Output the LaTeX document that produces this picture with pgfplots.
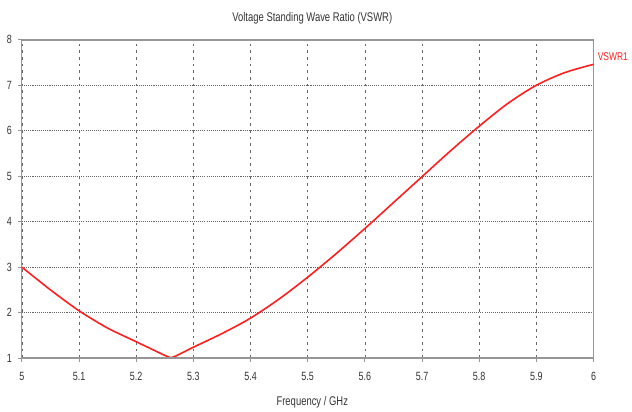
\documentclass[border=0pt]{standalone}
\usepackage{fontspec}
\setmainfont{Liberation Sans}[FakeStretch=0.75]
\usepackage{pgfplots}
\pgfplotsset{compat=1.18}
\definecolor{vred}{RGB}{255,30,30}
\definecolor{axgray}{RGB}{150,150,150}
\begin{document}
\begin{tikzpicture}
\path[use as bounding box] (-16.5pt,-40.5pt) rectangle (460pt,270pt);
\begin{axis}[
  scale only axis, width=431pt, height=240pt,
  xmin=5, xmax=6, ymin=1, ymax=8,
  xtick={5,5.1,...,6.01}, ytick={1,...,8},
  xticklabels={5,5.1,5.2,5.3,5.4,5.5,5.6,5.7,5.8,5.9,6},
  /pgf/number format/assume math mode=true,
  tick label style={font=\fontsize{9}{10}\selectfont, text=black!80},
  tick align=outside, major tick length=3pt,
  tick style={axgray, line width=0.6pt},
  xtick pos=bottom, ytick pos=left,
  xticklabel style={yshift=-4pt},
  yticklabel style={xshift=-1pt},
  axis line style={axgray, line width=0.8pt},
  xmajorgrids, ymajorgrids,
  x grid style={black!60, line width=0.4pt, dash pattern=on 2pt off 3pt},
  y grid style={black!60, line width=0.6pt, dash pattern=on 0.8pt off 0.8pt},
  clip=false,
]
\addplot[vred, line width=1.2pt, smooth, tension=0.4] coordinates {
 (5.00,3.00) (5.05,2.50) (5.10,2.04) (5.15,1.66) (5.20,1.36) (5.23,1.18)
 (5.25,1.06) (5.26,1.01)
};
\addplot[vred, line width=1.2pt, smooth, tension=0.5] coordinates {
 (5.26,1.01) (5.27,1.05) (5.30,1.24) (5.35,1.54) (5.40,1.88)
 (5.45,2.30) (5.50,2.78) (5.55,3.30) (5.60,3.85) (5.65,4.42) (5.70,4.99)
 (5.75,5.56) (5.80,6.10) (5.85,6.60) (5.90,7.00) (5.95,7.28) (6.00,7.46)
};
\draw[axgray, line width=1.8pt] (rel axis cs:0,0) -- (rel axis cs:1,0);
\draw[axgray, line width=1.8pt] (rel axis cs:0,1) -- (rel axis cs:1,1);
\node[anchor=west, inner sep=0pt, text=vred, font=\fontsize{8.5}{10}\selectfont] at ([xshift=3pt]rel axis cs:1,0.946) {VSWR1};
\node[font=\fontsize{9.5}{10}\selectfont, text=black!80] at ([yshift=16.5pt]rel axis cs:0.508,1) {Voltage Standing Wave Ratio (VSWR)};
\node[font=\fontsize{9.5}{10}\selectfont, text=black!80] at ([yshift=-33.5pt]rel axis cs:0.508,0) {Frequency / GHz};
\end{axis}
\end{tikzpicture}
\end{document}
